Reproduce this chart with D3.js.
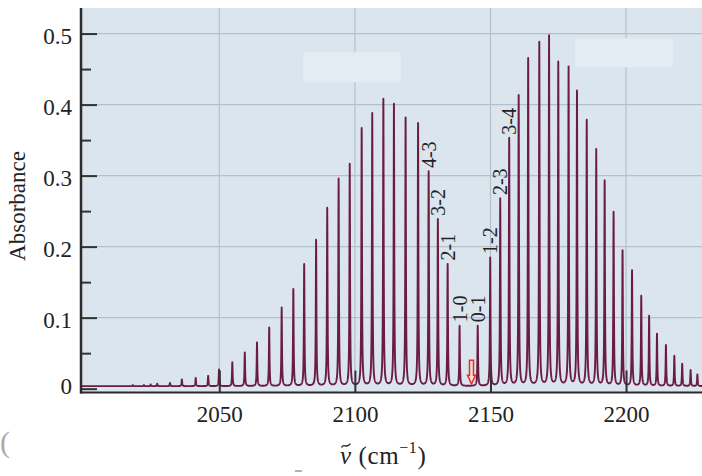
<!DOCTYPE html>
<meta charset="utf-8">
<script src="https://d3js.org/d3.v7.min.js"></script>
<style>
body { margin: 0; background: #fff; }
text { font-family: "Liberation Serif", "Times New Roman", serif; fill: #222; }
</style>
<body>
<script>
// Rotational lines of the CO fundamental: position (cm-1) and peak absorbance
var lineCenters = [2018.1, 2022.2, 2024.7, 2027.1, 2031.8, 2036.2, 2041.3, 2045.9, 2049.9, 2054.8,
                   2059.4, 2063.9, 2068.4, 2073.0, 2077.3, 2081.3, 2085.7, 2089.8, 2094.0, 2098.1,
                   2102.5, 2106.4, 2110.5, 2114.4, 2118.7, 2123.3, 2127.2, 2130.6, 2134.2, 2138.6,
                   2145.3, 2149.9, 2153.6, 2156.9, 2160.4, 2163.9, 2168.0, 2171.6, 2175.0, 2178.8,
                   2181.9, 2185.5, 2189.0, 2192.1, 2195.4, 2198.7, 2202.2, 2205.6, 2208.5, 2211.4,
                   2214.7, 2217.8, 2220.7, 2223.8, 2226.3];
var lineHeights = [0.005, 0.005, 0.006, 0.007, 0.008, 0.013, 0.015, 0.018, 0.027, 0.037,
                   0.051, 0.065, 0.086, 0.114, 0.140, 0.175, 0.209, 0.254, 0.295, 0.316,
                   0.366, 0.387, 0.407, 0.400, 0.381, 0.373, 0.305, 0.238, 0.175, 0.088,
                   0.088, 0.184, 0.267, 0.352, 0.412, 0.464, 0.487, 0.496, 0.459, 0.452,
                   0.418, 0.377, 0.336, 0.292, 0.248, 0.194, 0.166, 0.130, 0.102, 0.077,
                   0.061, 0.046, 0.035, 0.026, 0.020];

// Labelled transitions and the line each one sits on
var branchLabels = ["4-3", "3-2", "2-1", "1-0", "0-1", "1-2", "2-3", "3-4"];
var branchLabelAt = [2127.2, 2130.6, 2134.2, 2138.6, 2145.3, 2149.9, 2153.6, 2156.9];

// Ticks
var yTickValues = [0, 0.1, 0.2, 0.3, 0.4, 0.5];
var yMinorValues = [0.05, 0.15, 0.25, 0.35, 0.45];
var xTickValues = [2050, 2100, 2150, 2200];

var baseline = 0.0035;   // absorbance of the flat background
var bandOrigin = 2143;   // red arrow (missing Q branch)

// Faint erased boxes on the plot, [v0, v1, A0, A1]
var blankPatches = [[2080.9, 2116.9, 0.4315, 0.4737], [2181.2, 2217.3, 0.4526, 0.4934]];

var serif = "'Liberation Serif', 'Times New Roman', serif";
var width = 702, height = 476;

var svg = d3.select("body")
  .append("svg")
  .attr("width", width)
  .attr("height", height);

var x = d3.scaleLinear().domain([1999, 2228]).range([81, 702]);
var y = d3.scaleLinear().domain([-0.0054, 0.536]).range([392.5, 8]);

// Plot background
svg.append("rect")
  .attr("x", x.range()[0])
  .attr("y", y.range()[1])
  .attr("width", x.range()[1] - x.range()[0])
  .attr("height", y.range()[0] - y.range()[1])
  .attr("fill", "#dbe5ee");

// Grid lines
svg.selectAll(".hgrid")
  .data(yTickValues.filter(function(d) { return d > 0; }))
  .enter()
  .append("line")
  .attr("class", "hgrid")
  .attr("x1", x.range()[0]).attr("x2", x.range()[1])
  .attr("y1", function(d) { return y(d); })
  .attr("y2", function(d) { return y(d); })
  .attr("stroke", "#b4c0cc")
  .attr("stroke-width", 1.2);

svg.selectAll(".vgrid")
  .data(xTickValues)
  .enter()
  .append("line")
  .attr("class", "vgrid")
  .attr("x1", function(d) { return x(d); })
  .attr("x2", function(d) { return x(d); })
  .attr("y1", y.range()[1]).attr("y2", y.range()[0])
  .attr("stroke", "#b4c0cc")
  .attr("stroke-width", 1.2);

// Erased label patches
svg.selectAll(".patch")
  .data(blankPatches)
  .enter()
  .append("rect")
  .attr("class", "patch")
  .attr("x", function(d) { return x(d[0]); })
  .attr("y", function(d) { return y(d[3]); })
  .attr("width", function(d) { return x(d[1]) - x(d[0]); })
  .attr("height", function(d) { return y(d[2]) - y(d[3]); })
  .attr("fill", "#e3ebf3");

// Spectrum: each line as a narrow Lorentzian on top of the baseline
var hw = 0.13;
var samples = [];
for (var v = x.domain()[0]; v <= x.domain()[1]; v += 0.04) samples.push(v);
samples = samples.concat(lineCenters).sort(function(a, b) { return a - b; });

var spectrum = samples.map(function(v) {
  var a = baseline;
  for (var i = 0; i < lineCenters.length; i++) {
    var dv = v - lineCenters[i];
    a += (lineHeights[i] - baseline) * hw * hw / (dv * dv + hw * hw);
  }
  return [v, a];
});

svg.append("path")
  .datum(spectrum)
  .attr("fill", "none")
  .attr("stroke", "#6a1c45")
  .attr("stroke-width", 1.9)
  .attr("stroke-linejoin", "round")
  .attr("d", d3.line()
    .x(function(d) { return x(d[0]); })
    .y(function(d) { return y(d[1]); }));

// Red arrow at the band origin
var ax = x(bandOrigin), aTop = y(0.04), aNeck = y(0.019), aTip = y(0.0065);
svg.append("path")
  .attr("d", "M" + (ax - 2) + "," + aTop + "H" + (ax + 2) + "V" + aNeck + "H" + (ax + 4) +
             "L" + ax + "," + aTip + "L" + (ax - 4) + "," + aNeck + "H" + (ax - 2) + "Z")
  .attr("fill", "#f6dede")
  .attr("stroke", "#e0302a")
  .attr("stroke-width", 1.5);

// Transition labels above their lines
svg.selectAll(".branch-label")
  .data(branchLabels)
  .enter()
  .append("text")
  .attr("class", "branch-label")
  .attr("transform", function(d, i) {
    var h = lineHeights[lineCenters.indexOf(branchLabelAt[i])];
    return "translate(" + x(branchLabelAt[i]) + "," + (y(h) - 4) + ") rotate(-90)";
  })
  .attr("dy", "0.36em")
  .style("font-size", "20px")
  .text(function(d) { return d; });

// Y axis
var yAxis = svg.append("g")
  .attr("transform", "translate(" + x.range()[0] + ",0)")
  .call(d3.axisLeft(y)
    .tickValues(yTickValues)
    .tickSize(-16)
    .tickPadding(9)
    .tickFormat(function(d) { return d === 0 ? "0" : d.toFixed(1); }));
yAxis.selectAll("text")
  .attr("dy", function(d) { return d === 0 ? "0.2em" : "0.42em"; });

var yMinor = svg.append("g")
  .attr("transform", "translate(" + x.range()[0] + ",0)")
  .call(d3.axisLeft(y).tickValues(yMinorValues).tickSize(-10).tickFormat(""));

// X axis
var xAxis = svg.append("g")
  .attr("transform", "translate(0," + y.range()[0] + ")")
  .call(d3.axisBottom(x)
    .tickValues(xTickValues)
    .tickSize(-22)
    .tickPadding(13)
    .tickFormat(d3.format("d")));

[yAxis, yMinor, xAxis].forEach(function(g) {
  g.attr("font-family", null).attr("font-size", null);
  g.selectAll("text")
    .style("font-family", serif)
    .style("font-size", "23px")
    .style("fill", "#222");
});

svg.selectAll(".domain").remove();
svg.selectAll(".tick line").attr("stroke", "#333").attr("stroke-width", 2);

// Axis lines
svg.append("line")
  .attr("x1", x.range()[0]).attr("x2", x.range()[0])
  .attr("y1", y.range()[1]).attr("y2", y.range()[0] + 1)
  .attr("stroke", "#2b2b2b").attr("stroke-width", 2.5);
svg.append("line")
  .attr("x1", x.range()[0] - 1).attr("x2", x.range()[1])
  .attr("y1", y.range()[0]).attr("y2", y.range()[0])
  .attr("stroke", "#2b2b2b").attr("stroke-width", 2);

// Axis titles
svg.append("text")
  .attr("transform", "translate(25,206) rotate(-90)")
  .attr("text-anchor", "middle")
  .style("font-size", "23px")
  .text("Absorbance");

var xTitle = svg.append("text")
  .attr("x", 340)
  .attr("y", 464)
  .style("font-size", "25px")
  .style("letter-spacing", "0.6px");
xTitle.append("tspan").style("font-style", "italic").text("\u03bd");
xTitle.append("tspan").text(" (cm");
xTitle.append("tspan").attr("dy", -11).style("font-size", "16px").text("\u22121");
xTitle.append("tspan").attr("dy", 11).text(")");

// tilde over the nu, drawn as a small wave
svg.append("path")
  .attr("d", "M341.5,447.5 C343.5,442.5 347,449.5 350.5,443.5")
  .attr("fill", "none")
  .attr("stroke", "#222")
  .attr("stroke-width", 1.3);

// Scan leftovers at the bottom edge
svg.append("text")
  .attr("x", 0).attr("y", 452)
  .style("font-size", "30px")
  .style("fill", "#a9a9a9")
  .text("(");
svg.append("line")
  .attr("x1", 295).attr("x2", 302)
  .attr("y1", 471).attr("y2", 471)
  .attr("stroke", "#999").attr("stroke-width", 1.5);
</script>
</body>
</html>
